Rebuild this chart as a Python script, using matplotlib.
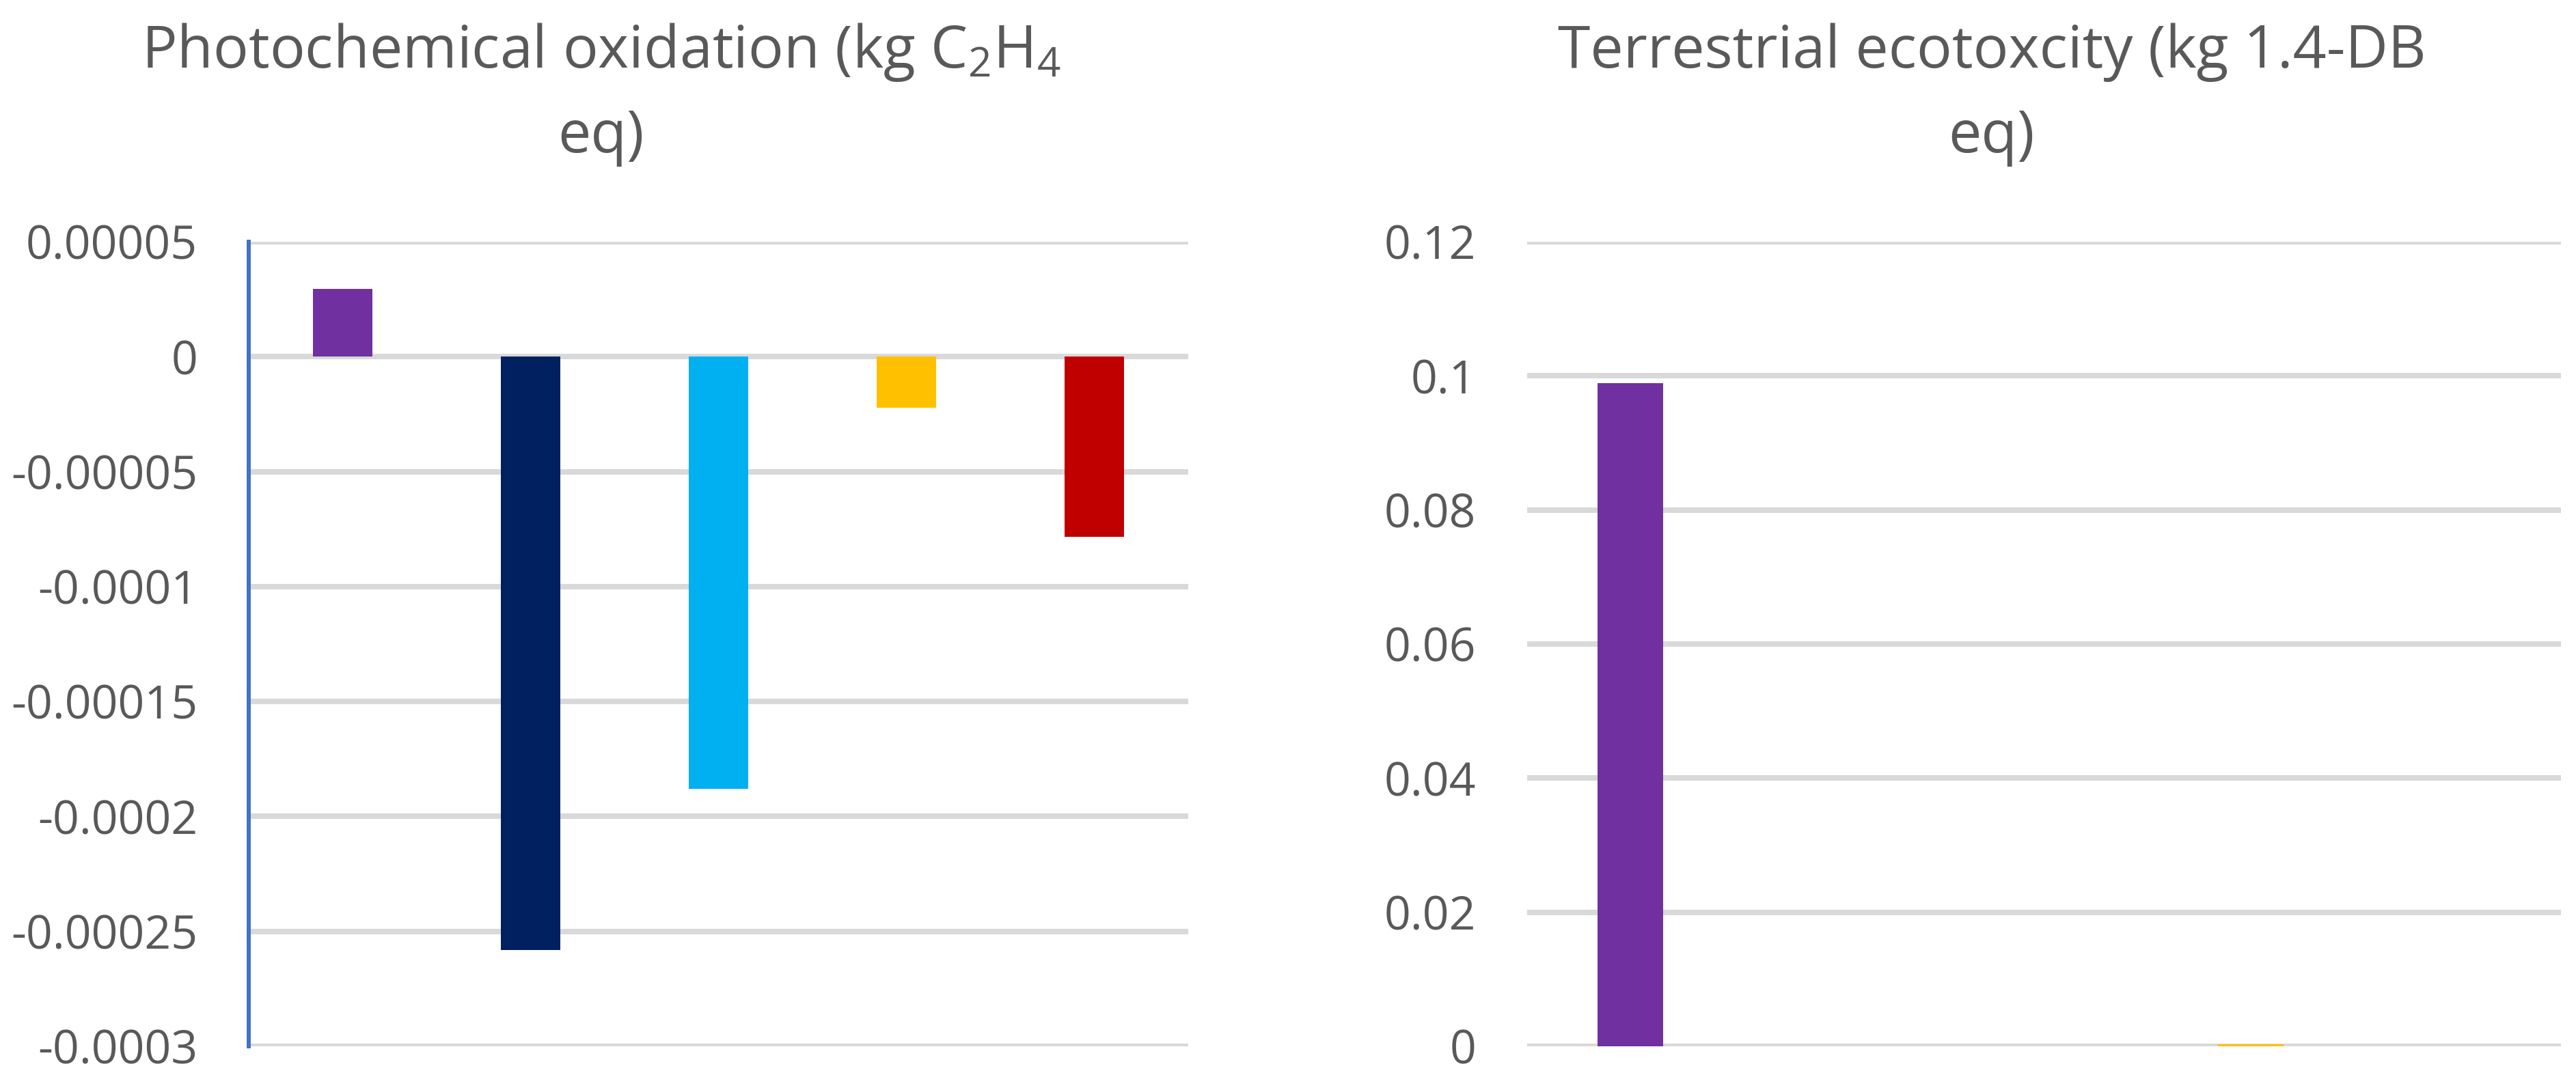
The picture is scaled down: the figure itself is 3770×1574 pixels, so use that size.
import matplotlib.pyplot as plt
import numpy as np

plt.rcParams["font.family"] = ["Open Sans", "DejaVu Sans"]
plt.rcParams["mathtext.fontset"] = "custom"
plt.rcParams["mathtext.rm"] = "Open Sans"
plt.rcParams["mathtext.it"] = "Open Sans"

# five scenarios, same order and colours in both panels
bar_colors = ["#7030A0", "#002060", "#00B0F0", "#FFC000", "#C00000"]

photo_values = [0.0000295, -0.000258, -0.000188, -0.0000223, -0.0000783]
photo_ticks = [0.00005, 0, -0.00005, -0.0001, -0.00015, -0.0002, -0.00025, -0.0003]
photo_ticklabels = ["0.00005", "0", "-0.00005", "-0.0001", "-0.00015", "-0.0002", "-0.00025", "-0.0003"]
photo_title = ["Photochemical oxidation (kg C$_{\\mathregular{2}}$H$_{\\mathregular{4}}$", "eq)"]

terr_values = [0.0989, -0.0002, -0.0002, 0.0003, -0.0002]
terr_ticks = [0, 0.02, 0.04, 0.06, 0.08, 0.1, 0.12]
terr_ticklabels = ["0", "0.02", "0.04", "0.06", "0.08", "0.1", "0.12"]
terr_title = ["Terrestrial ecotoxcity (kg 1.4-DB", "eq)"]

W, H = 3770, 1574
fig = plt.figure(figsize=(W / 100, H / 100), dpi=100)

text_color = "#595959"
grid_color = "#D9D9D9"


def draw_panel(ax, values, ticks, ticklabels, blue_axis):
    x = np.arange(len(values))
    ax.bar(x, values, width=0.316, color=bar_colors, linewidth=0, zorder=3)
    ax.set_xlim(-0.5, len(values) - 0.5)
    ax.set_ylim(min(ticks), max(ticks))
    ax.set_yticks(ticks)
    ax.set_yticklabels(ticklabels)
    ax.set_xticks([])
    ax.grid(axis="y", color=grid_color, linewidth=5.8, zorder=0)
    ax.set_axisbelow(True)
    for s in ["top", "right", "bottom"]:
        ax.spines[s].set_visible(False)
    if blue_axis:
        ax.spines["left"].set_color("#4472C4")
        ax.spines["left"].set_linewidth(4.3)
        ax.spines["left"].set_zorder(4)
    else:
        ax.spines["left"].set_visible(False)
    ax.tick_params(axis="y", length=0, pad=54, labelsize=49, labelcolor=text_color)


ax1 = fig.add_axes([364 / W, 1 - 1532 / H, (1739 - 364) / W, (1532 - 354) / H])
draw_panel(ax1, photo_values, photo_ticks, photo_ticklabels, True)

ax2 = fig.add_axes([2235 / W, 1 - 1532 / H, (3748 - 2235) / W, (1532 - 354) / H])
draw_panel(ax2, terr_values, terr_ticks, terr_ticklabels, False)

for cx, lines in [(880, photo_title), (2915, terr_title)]:
    fig.text(cx / W, 1 - 99 / H, lines[0], ha="center", va="baseline",
             fontsize=62, color=text_color)
    fig.text(cx / W, 1 - 223 / H, lines[1], ha="center", va="baseline",
             fontsize=62, color=text_color)

fig.savefig("out.png", dpi=100, facecolor="white")
